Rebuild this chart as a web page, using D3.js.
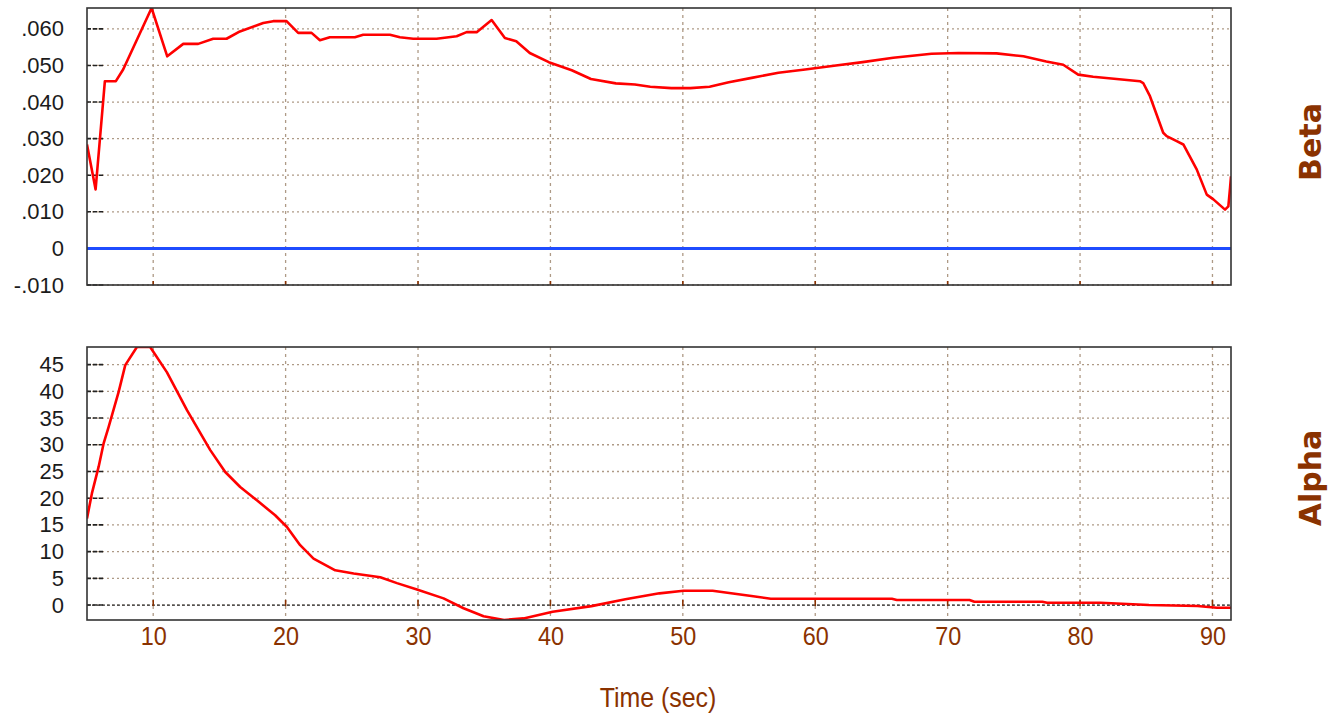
<!DOCTYPE html>
<html><head><meta charset="utf-8">
<script src="https://cdn.jsdelivr.net/npm/d3@7"></script>
<style>body{margin:0;background:#fff}svg{display:block}</style>
</head><body><svg id="c" width="1335" height="715"></svg>
<script>
// ---- data ----
const betaTime = [5.0,5.65,6.35,7.18,7.73,9.88,11.06,12.27,13.4,14.53,15.54,16.55,18.31,19.06,20.07,20.95,21.96,22.59,23.34,25.23,25.86,27.88,28.63,29.64,31.4,32.92,33.67,34.43,35.56,36.56,37.42,38.44,39.88,41.61,43.06,44.94,46.38,47.54,49.13,50.57,52.02,53.47,55.2,57.22,59.24,61.56,63.58,65.89,68.78,70.81,73.69,75.72,77.45,78.73,79.86,80.99,82.76,84.52,84.77,85.28,86.28,86.54,87.3,87.8,88.81,89.57,90.07,90.95,91.2,91.33,91.4];
const betaValues = [0.0284,0.0161,0.0457,0.0457,0.0489,0.0657,0.0525,0.0559,0.0559,0.0573,0.0573,0.0593,0.0616,0.0621,0.0621,0.0589,0.0589,0.0569,0.0577,0.0577,0.0584,0.0584,0.0577,0.0573,0.0573,0.0580,0.0591,0.0591,0.0624,0.0575,0.0566,0.0534,0.0509,0.0487,0.0463,0.0451,0.0448,0.0442,0.0438,0.0438,0.0442,0.0454,0.0466,0.0480,0.0489,0.0500,0.0509,0.0521,0.0532,0.0534,0.0533,0.0525,0.0511,0.0502,0.0475,0.0469,0.0463,0.0457,0.0452,0.0416,0.0316,0.0307,0.0293,0.0284,0.0216,0.0147,0.0134,0.0106,0.0115,0.0166,0.0197];
const betaRefTime = [5.0, 91.4];
const betaRefValues = [0, 0];
const alphaTime = [5.0,5.37,5.88,6.25,6.63,7.39,7.89,8.77,9.77,11.03,12.55,14.31,15.44,16.57,17.83,19.21,20.1,21.1,22.11,23.75,25.14,27.15,28.41,29.92,31.93,33.44,34.95,36.5,37.97,40.17,43.1,45.66,48.23,50.05,52.25,55.18,56.64,65.79,66.16,71.65,72.02,77.15,77.51,81.54,85.2,88.86,90.33,91.4];
const alphaValues = [16.2,20.9,25.9,30.2,33.3,39.9,44.9,48.3,48.3,43.6,36.5,29.0,24.9,22.1,19.6,16.8,14.6,11.2,8.7,6.5,5.9,5.2,4.1,2.9,1.25,-0.6,-2.1,-2.8,-2.5,-1.25,-0.2,1.07,2.19,2.67,2.67,1.68,1.18,1.18,0.94,0.94,0.62,0.62,0.43,0.43,0.0,-0.19,-0.5,-0.5];
const betaTicks = [0.060,0.050,0.040,0.030,0.020,0.010,0,-0.010];
const betaTickLabels = [".060",".050",".040",".030",".020",".010","0","-.010"];
const alphaTicks = [45,40,35,30,25,20,15,10,5,0];
const alphaTickLabels = ["45","40","35","30","25","20","15","10","5","0"];
const timeTicks = [10,20,30,40,50,60,70,80,90];
const timeTickLabels = ["10","20","30","40","50","60","70","80","90"];

// ---- layout ----
const svg = d3.select("#c");
const L = 87, R = 1231;
const x = d3.scaleLinear().domain([5, 91.4]).range([L, R]);
const yB = d3.scaleLinear().domain([-0.010, 0.0657]).range([285, 8]);
const yA = d3.scaleLinear().domain([-2.8, 48.3]).range([620, 347]);
const brown = "#8a3200";
const gridCol = "#ae9a86";

function panel(y, ticks, labels, id) {
  const g = svg.append("g");
  const [b, t] = y.range();
  g.append("clipPath").attr("id", id).append("rect")
    .attr("x", L).attr("y", t).attr("width", R - L).attr("height", b - t);
  g.selectAll(".hg").data(ticks).join("line")
    .attr("x1", L).attr("x2", R).attr("y1", d => y(d)).attr("y2", d => y(d))
    .attr("stroke", gridCol).attr("stroke-width", 1.3).attr("stroke-dasharray", "2,3");
  g.selectAll(".vg").data(timeTicks).join("line")
    .attr("x1", d => x(d)).attr("x2", d => x(d)).attr("y1", t).attr("y2", b)
    .attr("stroke", gridCol).attr("stroke-width", 1.3).attr("stroke-dasharray", "3,4");
  g.selectAll(".lt").data(ticks).join("line")
    .attr("x1", L).attr("x2", L + 16).attr("y1", d => y(d)).attr("y2", d => y(d))
    .attr("stroke", "#222").attr("stroke-width", 1.6).attr("stroke-dasharray", "4,2");
  const ax = d3.axisLeft(y).tickValues(ticks).tickSize(0).tickPadding(23)
    .tickFormat((d, i) => labels[i]);
  const ag = g.append("g").attr("transform", `translate(${L},0)`).call(ax);
  ag.select(".domain").remove();
  ag.selectAll("text").attr("font-family", "'Liberation Sans', Arial, sans-serif")
    .attr("font-size", 22).attr("fill", "#1b1b1b");
  return g;
}

const gB = panel(yB, betaTicks, betaTickLabels, "clipB");
const gA = panel(yA, alphaTicks, alphaTickLabels, "clipA");

gA.append("line").attr("x1", L).attr("x2", R).attr("y1", yA(0)).attr("y2", yA(0))
  .attr("stroke", "#333").attr("stroke-width", 1.3).attr("stroke-dasharray", "3,2");
gA.selectAll(".zt").data(timeTicks).join("line")
  .attr("x1", d => x(d)).attr("x2", d => x(d)).attr("y1", yA(0) - 5).attr("y2", yA(0) + 1)
  .attr("stroke", brown).attr("stroke-width", 1.6);
gB.selectAll(".zt").data(timeTicks).join("line")
  .attr("x1", d => x(d)).attr("x2", d => x(d)).attr("y1", 281).attr("y2", 285)
  .attr("stroke", brown).attr("stroke-width", 1.6);

const lineB = d3.line().x((d, i) => x(betaTime[i])).y(d => yB(d));
const lineRef = d3.line().x((d, i) => x(betaRefTime[i])).y(d => yB(d));
const lineA = d3.line().x((d, i) => x(alphaTime[i])).y(d => yA(d));

gB.append("path").datum(betaRefValues).attr("d", lineRef).attr("clip-path", "url(#clipB)")
  .attr("fill", "none").attr("stroke", "#1f4cff").attr("stroke-width", 3);
gB.append("path").datum(betaValues).attr("d", lineB).attr("clip-path", "url(#clipB)")
  .attr("fill", "none").attr("stroke", "#ff0000").attr("stroke-width", 2.6).attr("stroke-linejoin", "round");
gA.append("path").datum(alphaValues).attr("d", lineA).attr("clip-path", "url(#clipA)")
  .attr("fill", "none").attr("stroke", "#ff0000").attr("stroke-width", 2.6).attr("stroke-linejoin", "round");

[yB, yA].forEach(y => {
  const [b, t] = y.range();
  svg.append("rect").attr("x", L).attr("y", t).attr("width", R - L).attr("height", b - t)
    .attr("fill", "none").attr("stroke", "#333").attr("stroke-width", 1.6);
});

const xa = d3.axisBottom(x).tickValues(timeTicks).tickSize(0).tickPadding(0)
  .tickFormat((d, i) => timeTickLabels[i]);
const xg = svg.append("g").attr("transform", "translate(0,627)").call(xa);
xg.select(".domain").remove();
xg.selectAll("text").attr("font-family", "'Liberation Sans', Arial, sans-serif")
  .attr("font-size", 26).attr("fill", brown).attr("transform", "scale(0.9,1)");

svg.append("g").attr("transform", "translate(658,707) scale(0.89,1)")
  .append("text").attr("text-anchor", "middle")
  .attr("font-family", "'Liberation Sans', Arial, sans-serif")
  .attr("font-size", 28).attr("fill", brown).text("Time (sec)");

[["Beta", 142], ["Alpha", 478]].forEach(([t, cy]) => {
  svg.append("text").attr("transform", `translate(1321,${cy}) rotate(-90)`)
    .attr("text-anchor", "middle").attr("font-family", "'DejaVu Sans', Verdana, sans-serif")
    .attr("font-weight", "bold").attr("font-size", 30).attr("fill", brown).text(t);
});
</script></body></html>
